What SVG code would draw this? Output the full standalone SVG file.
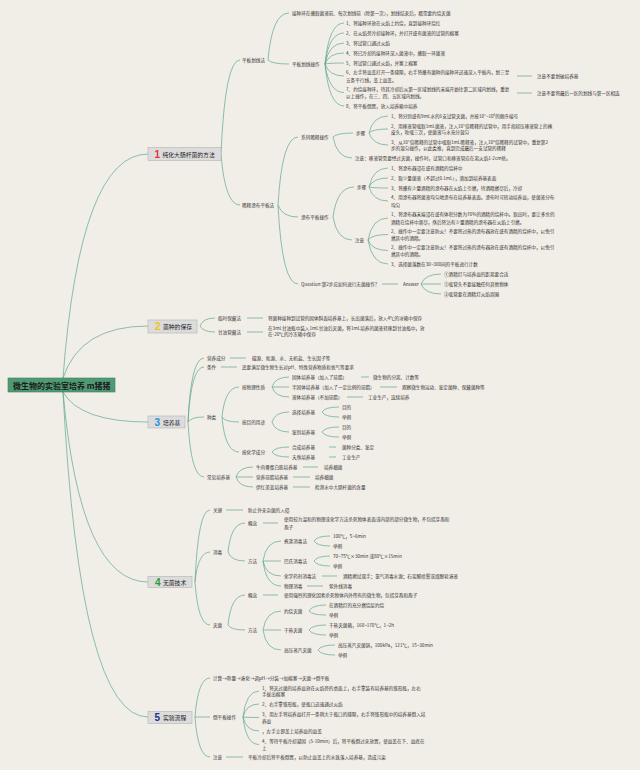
<svg xmlns="http://www.w3.org/2000/svg" width="640" height="770" viewBox="0 0 640 770">
<style>
.t{font-family:"Noto Sans CJK SC","Noto Sans",sans-serif;font-size:4.6px;fill:#333;dominant-baseline:central}
.c path,.c line{fill:none;stroke:#5fa98b;stroke-width:0.7}
.nb{fill:#dcdcdc;stroke:#b4b4b4;stroke-width:0.6}
.nl{font-family:"Noto Sans CJK SC","Noto Sans",sans-serif;font-size:5.8px;fill:#222;dominant-baseline:central}
.nn{font-family:"Liberation Sans",sans-serif;font-size:10px;font-weight:bold;dominant-baseline:central}
</style>
<rect width="640" height="770" fill="#f1ede7"/>
<g class="c" id="connectors">
<path d="M63 378Q80 154 148 154"/>
<path d="M63 378Q80 326 148 326"/>
<path d="M63 392Q80 422 148 422"/>
<path d="M63 392Q80 582 148 582"/>
<path d="M63 392Q80 717 148 717"/>
<path d="M221 154Q225 60 240 60"/>
<path d="M221 154Q225 205 240 205"/>
<path d="M268 60Q272 13 289 13"/>
<path d="M268 60Q272 64 289 64"/>
<path d="M325 64Q329 23 344 23"/>
<path d="M325 64Q329 33 344 33"/>
<path d="M325 64Q329 43 344 43"/>
<path d="M325 64Q329 53 344 53"/>
<path d="M325 64Q329 63 344 63"/>
<path d="M325 64Q329 76 344 76"/>
<path d="M325 64Q329 92.5 344 92.5"/>
<path d="M325 64Q329 106 344 106"/>
<line x1="517" y1="76" x2="532" y2="76"/>
<line x1="517" y1="93" x2="532" y2="93"/>
<path d="M278 205Q282 137 298 137"/>
<path d="M278 205Q282 217 298 217"/>
<path d="M278 205Q282 284 298 284"/>
<path d="M333 137Q337 133 353 133"/>
<path d="M333 137Q337 158 352 158"/>
<path d="M369 133Q373 116 388 116"/>
<path d="M369 133Q373 129 388 129"/>
<path d="M369 133Q373 145 388 145"/>
<path d="M333 217Q337 187 354 187"/>
<path d="M333 217Q337 240 352 240"/>
<path d="M369 187Q373 168 388 168"/>
<path d="M369 187Q373 178 388 178"/>
<path d="M369 187Q373 188 388 188"/>
<path d="M369 187Q373 201 388 201"/>
<path d="M368 240Q372 218 388 218"/>
<path d="M368 240Q372 234.5 388 234.5"/>
<path d="M368 240Q372 250.5 388 250.5"/>
<path d="M368 240Q372 264 388 264"/>
<line x1="382" y1="284" x2="398" y2="284"/>
<path d="M421 284Q425 274 441 274"/>
<path d="M421 284Q425 284 441 284"/>
<path d="M421 284Q425 294 441 294"/>
<path d="M200 326Q203 318 215 318"/>
<path d="M200 326Q203 332 215 332"/>
<line x1="247" y1="318" x2="263" y2="318"/>
<line x1="247" y1="332" x2="263" y2="332"/>
<path d="M188 422Q191 358 204 358"/>
<path d="M188 422Q191 367 204 367"/>
<path d="M188 422Q191 417 204 417"/>
<path d="M188 422Q191 477 204 477"/>
<line x1="230" y1="358" x2="246" y2="358"/>
<line x1="221" y1="367" x2="237" y2="367"/>
<path d="M222 417Q225 387 239 387"/>
<path d="M222 417Q225 422 239 422"/>
<path d="M222 417Q225 452 239 452"/>
<path d="M272 387Q275 377 289 377"/>
<path d="M272 387Q275 387 289 387"/>
<path d="M272 387Q275 397 289 397"/>
<line x1="361" y1="377" x2="369" y2="377"/>
<line x1="380" y1="387" x2="397" y2="387"/>
<line x1="347" y1="397" x2="363" y2="397"/>
<path d="M272 422Q275 412 289 412"/>
<path d="M272 422Q275 432 289 432"/>
<path d="M322 412Q325 407 339 407"/>
<path d="M322 412Q325 417 339 417"/>
<path d="M322 432Q325 427 339 427"/>
<path d="M322 432Q325 437 339 437"/>
<path d="M272 452Q275 447 289 447"/>
<path d="M272 452Q275 457 289 457"/>
<line x1="329" y1="447" x2="336" y2="447"/>
<line x1="329" y1="457" x2="336" y2="457"/>
<path d="M236 477Q239 467 253 467"/>
<path d="M236 477Q239 477 253 477"/>
<path d="M236 477Q239 487 253 487"/>
<line x1="303" y1="467" x2="318" y2="467"/>
<line x1="293" y1="477" x2="310" y2="477"/>
<line x1="293" y1="487" x2="310" y2="487"/>
<path d="M195 582Q198 510 210 510"/>
<path d="M195 582Q198 552 210 552"/>
<path d="M195 582Q198 625 210 625"/>
<line x1="226" y1="510" x2="243" y2="510"/>
<path d="M228 552Q231 523 245 523"/>
<path d="M228 552Q231 561 245 561"/>
<line x1="263" y1="523" x2="278" y2="523"/>
<path d="M263 561Q266 541 281 541"/>
<path d="M263 561Q266 561 281 561"/>
<path d="M263 561Q266 576 281 576"/>
<path d="M263 561Q266 586 281 586"/>
<path d="M314 541Q317 536 330 536"/>
<path d="M314 541Q317 546 330 546"/>
<path d="M314 561Q317 556 330 556"/>
<path d="M314 561Q317 566 330 566"/>
<line x1="322" y1="576" x2="337" y2="576"/>
<line x1="307" y1="586" x2="323" y2="586"/>
<path d="M228 625Q231 595 245 595"/>
<path d="M228 625Q231 630 245 630"/>
<line x1="263" y1="595" x2="278" y2="595"/>
<path d="M263 630Q266 611 281 611"/>
<path d="M263 630Q266 630 281 630"/>
<path d="M263 630Q266 650 281 650"/>
<path d="M309 611Q312 605 326 605"/>
<path d="M309 611Q312 615 326 615"/>
<path d="M309 630Q312 625 326 625"/>
<path d="M309 630Q312 635 326 635"/>
<path d="M318 650Q321 645 335 645"/>
<path d="M318 650Q321 655 335 655"/>
<path d="M195 717Q198 678 210 678"/>
<path d="M195 717Q198 717 210 717"/>
<path d="M195 717Q198 757 210 757"/>
<path d="M243 717Q246 691 259 691"/>
<path d="M243 717Q246 704 259 704"/>
<path d="M243 717Q246 717.5 259 717.5"/>
<path d="M243 717Q246 731 259 731"/>
<path d="M243 717Q246 744.5 259 744.5"/>
<line x1="226" y1="757" x2="243" y2="757"/>
</g>
<g id="root">
<rect x="8" y="378" width="107" height="14" fill="#4f9a72" stroke="#3f8060" stroke-width="0.6"/>
<text x="13" y="385" font-family="&quot;Noto Sans CJK SC&quot;,sans-serif" font-size="8" font-weight="bold" fill="#1b1b1b" dominant-baseline="central">微生物的实验室培养 m猪猪</text>
</g>
<g id="n1">
<rect class="nb" x="148" y="147.5" width="73" height="13"/>
<text class="nn" x="154.5" y="154" fill="#e03535">1</text>
<text class="nl" x="162.5" y="154">纯化大肠杆菌的方法</text>
</g>
<g id="n1-1">
<text class="t" x="242" y="60">平板划线法</text>
<text class="t" x="292" y="13">接种环在蘸取菌液前、每次划线前（除第一次），划线结束后，都需要灼烧灭菌</text>
<text class="t" x="292" y="64">平板划线操作</text>
<text class="t" x="346" y="23">1、将接种环放在火焰上灼烧，直到接种环烧红</text>
<text class="t" x="346" y="33">2、在火焰旁冷却接种环，并打开盛有菌液的试管的棉塞</text>
<text class="t" x="346" y="43">3、将试管口通过火焰</text>
<text class="t" x="346" y="53">4、将已冷却的接种环深入菌液中，蘸取一环菌液</text>
<text class="t" x="346" y="63">5、将试管口通过火焰，并塞上棉塞</text>
<text class="t" x="346" y="72">6、左手将皿盖打开一条缝隙，右手将蘸有菌种的接种环迅速深入平板内，划三至</text>
<text class="t" x="346" y="80">五条平行线，盖上皿盖。</text>
<text class="t" x="537" y="76">注意不要划破培养基</text>
<text class="t" x="346" y="89">7、灼烧接种环，待其冷却后从第一区域划线的末端开始往第二区域内划线，重复</text>
<text class="t" x="346" y="96">以上操作，在三、四、五区域内划线。</text>
<text class="t" x="537" y="93">注意不要将最后一区的划线与第一区相连</text>
<text class="t" x="346" y="106">8、将平板倒置，放入培养箱中培养</text>
</g>
<g id="n1-2">
<text class="t" x="242" y="205">稀释涂布平板法</text>
<text class="t" x="301" y="137">系列稀释操作</text>
<text class="t" x="356" y="133">步骤</text>
<text class="t" x="391" y="116">1、将分别盛有9mL水的6支试管灭菌，并按10¹~10⁶的顺序编号</text>
<text class="t" x="391" y="126">2、用移液管吸取1mL菌液，注入10¹倍稀释的试管中，用手指轻压移液管上的橡</text>
<text class="t" x="391" y="132">皮头，吹吸三次，使菌液与水充分混匀</text>
<text class="t" x="391" y="142">3、从10¹倍稀释的试管中吸取1mL稀释液，注入10²倍稀释的试管中，重复第2</text>
<text class="t" x="391" y="148">步的混匀操作，以此类推，直到完成最后一支试管的稀释</text>
<text class="t" x="355" y="158">注意：移液管需要经过灭菌，操作时，试管口和移液管应在离火焰1-2cm处。</text>
<text class="t" x="301" y="217">涂布平板操作</text>
<text class="t" x="357" y="187">步骤</text>
<text class="t" x="391" y="168">1、将涂布器浸在盛有酒精的烧杯中</text>
<text class="t" x="391" y="178">2、取少量菌液（不超过0.1mL），滴加到培养基表面</text>
<text class="t" x="391" y="188">3、将蘸有少量酒精的涂布器在火焰上引燃，待酒精燃尽后，冷却</text>
<text class="t" x="391" y="197">4、用涂布器将菌液均匀地涂布在培养基表面。涂布时可转动培养皿，使菌液分布</text>
<text class="t" x="391" y="205">均匀</text>
<text class="t" x="355" y="240">注意</text>
<text class="t" x="391" y="214">1、将涂布器末端浸在盛有体积分数为70%的酒精的烧杯中。取出时，要让多余的</text>
<text class="t" x="391" y="222">酒精在烧杯中滴尽，然后将沾有少量酒精的涂布器在火焰上引燃。</text>
<text class="t" x="391" y="231">2、操作中一定要注意防火！不要将过热的涂布器放在盛有酒精的烧杯中，以免引</text>
<text class="t" x="391" y="238">燃其中的酒精。</text>
<text class="t" x="391" y="247">2、操作中一定要注意防火！不要将过热的涂布器放在盛有酒精的烧杯中，以免引</text>
<text class="t" x="391" y="254">燃其中的酒精。</text>
<text class="t" x="391" y="264">3、选择菌落数在30~300间的平板进行计数</text>
<text class="t" x="301" y="284">Question:第2步应如何进行无菌操作？</text>
<text class="t" x="403" y="284">Answer</text>
<text class="t" x="444" y="274">①酒精灯与培养皿的距离要合适</text>
<text class="t" x="444" y="284">②吸管头不要接触任何其他物体</text>
<text class="t" x="444" y="294">③吸管要在酒精灯火焰周围</text>
</g>
<g id="n2">
<rect class="nb" x="148" y="320" width="49" height="13"/>
<text class="nn" x="155" y="326.5" fill="#e8c423">2</text>
<text class="nl" x="163" y="326.5">菌种的保存</text>
<text class="t" x="218" y="318">临时保藏法</text>
<text class="t" x="268" y="318">将菌种接种到试管的固体斜面培养基上，长出菌落后，放入4℃的冰箱中保存</text>
<text class="t" x="218" y="332">甘油管藏法</text>
<text class="t" x="268" y="328">在3mL甘油瓶中装入1mL甘油后灭菌，将1mL培养的菌液转移到甘油瓶中，放</text>
<text class="t" x="268" y="334">在-20℃的冷冻箱中保存</text>
</g>
<g id="n3">
<rect class="nb" x="148" y="416" width="37" height="12"/>
<text class="nn" x="154.5" y="422" fill="#2b8ee0">3</text>
<text class="nl" x="163" y="422">培养基</text>
<text class="t" x="207" y="358">营养成分</text>
<text class="t" x="252" y="358">碳源、氮源、水、无机盐、生长因子等</text>
<text class="t" x="207" y="367">条件</text>
<text class="t" x="242" y="367">还要满足微生物生长对pH、特殊营养物质和氧气等要求</text>
<text class="t" x="207" y="417">种类</text>
<text class="t" x="242" y="387">按物理性质</text>
<text class="t" x="292" y="377">固体培养基（加入了琼脂）</text>
<text class="t" x="373" y="377">微生物的分离、计数等</text>
<text class="t" x="292" y="387">半固体培养基（加入了一定比例的琼脂）</text>
<text class="t" x="402" y="387">观察微生物运动、鉴定菌种、保藏菌种等</text>
<text class="t" x="292" y="397">液体培养基（不加琼脂）</text>
<text class="t" x="368" y="397">工业生产，连续培养</text>
<text class="t" x="242" y="422">按目的用途</text>
<text class="t" x="292" y="412">选择培养基</text>
<text class="t" x="342" y="407">目的</text>
<text class="t" x="342" y="417">举例</text>
<text class="t" x="292" y="432">鉴别培养基</text>
<text class="t" x="342" y="427">目的</text>
<text class="t" x="342" y="437">举例</text>
<text class="t" x="242" y="452">按化学成分</text>
<text class="t" x="292" y="447">合成培养基</text>
<text class="t" x="342" y="447">菌种分类、鉴定</text>
<text class="t" x="292" y="457">天然培养基</text>
<text class="t" x="342" y="457">工业生产</text>
<text class="t" x="207" y="477">常见培养基</text>
<text class="t" x="256" y="467">牛肉膏蛋白胨培养基</text>
<text class="t" x="324" y="467">培养细菌</text>
<text class="t" x="256" y="477">营养琼脂培养基</text>
<text class="t" x="315" y="477">培养细菌</text>
<text class="t" x="256" y="487">伊红美蓝培养基</text>
<text class="t" x="315" y="487">检测水中大肠杆菌的含量</text>
</g>
<g id="n4">
<rect class="nb" x="148" y="576.5" width="44" height="11"/>
<text class="nn" x="155" y="582" fill="#2c9a3c">4</text>
<text class="nl" x="163" y="582">无菌技术</text>
<text class="t" x="213" y="510">关键</text>
<text class="t" x="248" y="510">防止外来杂菌的入侵</text>
<text class="t" x="213" y="552">消毒</text>
<text class="t" x="248" y="523">概念</text>
<text class="t" x="284" y="519">使用较为温和的物理或化学方法杀死物体表面或内部的部分微生物，不包括芽孢和</text>
<text class="t" x="284" y="527">孢子</text>
<text class="t" x="248" y="561">方法</text>
<text class="t" x="284" y="541">煮沸消毒法</text>
<text class="t" x="333" y="536">100℃，5~6min</text>
<text class="t" x="333" y="546">举例</text>
<text class="t" x="284" y="561">巴氏消毒法</text>
<text class="t" x="333" y="556">70~75℃×30min 或80℃×15min</text>
<text class="t" x="333" y="566">举例</text>
<text class="t" x="284" y="576">化学药剂消毒法</text>
<text class="t" x="343" y="576">酒精擦拭双手；氯气消毒水源；石炭酸喷雾或煤酚皂溶液</text>
<text class="t" x="284" y="586">物理消毒</text>
<text class="t" x="329" y="586">紫外线消毒</text>
<text class="t" x="213" y="625">灭菌</text>
<text class="t" x="248" y="595">概念</text>
<text class="t" x="284" y="595">使用强烈的理化因素杀死物体内外所有的微生物，包括芽孢和孢子</text>
<text class="t" x="248" y="630">方法</text>
<text class="t" x="284" y="611">灼烧灭菌</text>
<text class="t" x="329" y="605">在酒精灯的充分燃烧层灼烧</text>
<text class="t" x="329" y="615">举例</text>
<text class="t" x="284" y="630">干热灭菌</text>
<text class="t" x="329" y="625">干热灭菌箱，160~170℃，1~2h</text>
<text class="t" x="329" y="635">举例</text>
<text class="t" x="284" y="650">高压蒸汽灭菌</text>
<text class="t" x="338" y="645">高压蒸汽灭菌锅，100kPa，121℃，15~30min</text>
<text class="t" x="338" y="655">举例</text>
</g>
<g id="n5">
<rect class="nb" x="148" y="711.5" width="44" height="12"/>
<text class="nn" x="154.5" y="717.5" fill="#1f2f8c">5</text>
<text class="nl" x="163" y="717.5">实验流程</text>
<text class="t" x="213" y="678">计算→称量→溶化→调pH→分装→加棉塞→灭菌→倒平板</text>
<text class="t" x="213" y="717">倒平板操作</text>
<text class="t" x="262" y="688">1、将灭过菌的培养皿放在火焰旁的桌面上，右手拿装有培养基的锥形瓶，左右</text>
<text class="t" x="262" y="694">手拔出棉塞</text>
<text class="t" x="262" y="704">2、右手拿锥形瓶，使瓶口迅速通过火焰</text>
<text class="t" x="262" y="714">3、用左手将培养皿打开一条稍大于瓶口的缝隙，右手将锥形瓶中的培养基倒入培</text>
<text class="t" x="262" y="721">养皿</text>
<text class="t" x="262" y="731">，左手立即盖上培养皿的皿盖</text>
<text class="t" x="262" y="741">4、等待平板冷却凝固（5-10min）后，将平板倒过来放置，使皿盖在下、皿底在</text>
<text class="t" x="262" y="748">上</text>
<text class="t" x="213" y="757">注意</text>
<text class="t" x="248" y="757">平板冷却后将平板倒置，以防止皿盖上的水珠落入培养基，造成污染</text>
</g>
</svg>
